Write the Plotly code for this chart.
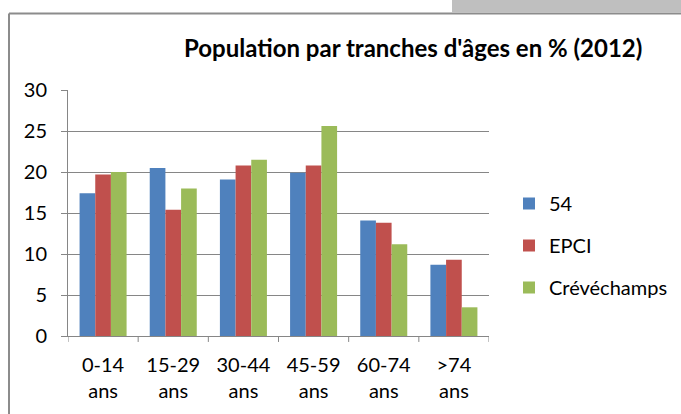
import plotly.graph_objects as go

# age groups and shares (%)
age_groups = ["0-14<br>ans", "15-29<br>ans", "30-44<br>ans", "45-59<br>ans", "60-74<br>ans", ">74<br>ans"]
dept_54 = [17.4, 20.5, 19.1, 19.9, 14.1, 8.7]
epci = [19.7, 15.4, 20.8, 20.8, 13.8, 9.3]
crevechamps = [20.0, 18.0, 21.5, 25.6, 11.2, 3.5]
y_ticks = [0, 5, 10, 15, 20, 25, 30]

series = [
    ("54", dept_54, "#4F81BD"),
    ("EPCI", epci, "#C0504D"),
    ("Crévéchamps", crevechamps, "#9BBB59"),
]

FONT = "Lato"
GRID = "#868686"
W, H = 681, 414
# plot area in pixels
L, R, T, B = 68, 489, 90, 338


def px_x(px):
    return (px - L) / (R - L)


def px_y(py):
    return (B - py) / (B - T)


fig = go.Figure()
for i, (name, vals, color) in enumerate(series):
    fig.add_trace(go.Bar(
        x=list(range(len(age_groups))), y=vals, name=name,
        marker=dict(color=color, line=dict(width=0)),
        legendgroup=str(i),
    ))

fig.update_layout(
    width=W, height=H,
    margin=dict(l=L, r=W - R, t=T, b=H - B),
    paper_bgcolor="white", plot_bgcolor="white",
    font=dict(family=FONT, size=20, color="#000000"),
    barmode="group", bargap=0.33, bargroupgap=0,
    showlegend=True,
    legend=dict(x=509 / W, xref="container", y=1 - 184 / H, yref="container",
                yanchor="top", xanchor="left",
                font=dict(size=20), tracegroupgap=13, itemwidth=30,
                bgcolor="rgba(0,0,0,0)"),
    annotations=[dict(
        text="<b>Population par tranches d'âges en % (2012)</b>",
        xref="paper", yref="paper", x=px_x(413), y=px_y(47),
        xanchor="center", yanchor="middle", showarrow=False,
        font=dict(size=24, family=FONT),
    )],
    shapes=[
        # outer chart border (top and left), plus grey strip above
        dict(type="line", xref="paper", yref="paper",
             x0=px_x(9), x1=px_x(690), y0=px_y(13), y1=px_y(13),
             line=dict(color="#8c8c8c", width=2)),
        dict(type="line", xref="paper", yref="paper",
             x0=px_x(9), x1=px_x(9), y0=px_y(13), y1=px_y(420),
             line=dict(color="#8c8c8c", width=2)),
        dict(type="rect", xref="paper", yref="paper",
             x0=px_x(452), x1=px_x(690), y0=px_y(12), y1=px_y(-5),
             fillcolor="#bfbfbf", line=dict(width=0)),
    ],
)

fig.update_xaxes(
    tickmode="array", tickvals=list(range(len(age_groups))), ticktext=age_groups,
    range=[-0.5, len(age_groups) - 0.5],
    showline=True, linecolor=GRID, linewidth=1,
    showgrid=False, zeroline=False,
    ticks="", tickfont=dict(size=20), ticklabelstandoff=11,
)
# category separator ticks below the axis
for k in range(len(age_groups) + 1):
    fig.add_shape(type="line", xref="x", yref="paper", x0=k - 0.5, x1=k - 0.5,
                  y0=0, y1=px_y(B + 6), line=dict(color=GRID, width=1))

fig.update_yaxes(
    range=[0, 30], tickvals=y_ticks,
    showline=True, linecolor=GRID, linewidth=1,
    showgrid=True, gridcolor=GRID, gridwidth=1,
    zeroline=False, ticks="outside", ticklen=6, tickcolor=GRID,
    ticklabelstandoff=10,
)

fig.write_html("out.html", config={"displayModeBar": False},
               post_script="document.body.style.margin='0';")
